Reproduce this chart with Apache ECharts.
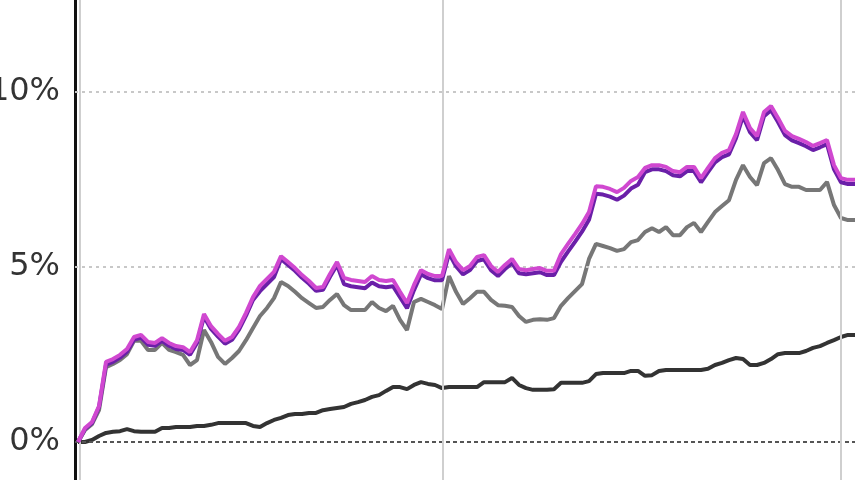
<!DOCTYPE html>
<html>
<head>
<meta charset="utf-8">
<script src="https://cdn.jsdelivr.net/npm/echarts@6/dist/echarts.min.js"></script>
<style>html,body{margin:0;padding:0;background:#fff}#c{width:855px;height:480px}</style>
</head>
<body>
<div id="c"></div>
<script>
// Y tick labels (percent)
const yTicks = [0, 5, 10];
// vertical grid positions (in point index units)
const xGridLines = [0.3, 52.1, 108.9];

// series values in percent, one per period
const magenta = [0,0.40,0.57,1.03,2.29,2.37,2.49,2.66,3.00,3.06,2.86,2.83,2.97,2.83,2.74,2.71,2.57,2.91,3.66,3.31,3.09,2.89,3.00,3.29,3.69,4.14,4.46,4.66,4.86,5.31,5.14,4.97,4.77,4.60,4.40,4.43,4.80,5.14,4.69,4.63,4.60,4.57,4.74,4.63,4.60,4.63,4.29,3.97,4.49,4.91,4.80,4.74,4.74,5.51,5.14,4.91,5.03,5.29,5.34,5.03,4.86,5.06,5.23,4.94,4.91,4.94,4.97,4.89,4.89,5.37,5.66,5.94,6.23,6.57,7.31,7.29,7.23,7.14,7.26,7.46,7.57,7.83,7.91,7.91,7.86,7.74,7.71,7.86,7.86,7.54,7.83,8.11,8.26,8.34,8.80,9.43,8.97,8.74,9.43,9.60,9.26,8.89,8.74,8.66,8.57,8.46,8.54,8.63,7.91,7.54,7.49,7.49];
const purple = [0,0.37,0.54,1.00,2.21,2.29,2.41,2.58,2.92,2.98,2.78,2.75,2.89,2.75,2.66,2.63,2.49,2.83,3.58,3.23,3.01,2.81,2.92,3.21,3.61,4.06,4.31,4.51,4.71,5.23,5.06,4.89,4.69,4.52,4.32,4.35,4.72,5.06,4.51,4.45,4.42,4.39,4.56,4.45,4.42,4.45,4.14,3.82,4.34,4.79,4.68,4.62,4.62,5.39,5.02,4.79,4.91,5.17,5.22,4.91,4.74,4.94,5.11,4.82,4.79,4.82,4.85,4.77,4.77,5.15,5.44,5.72,6.01,6.35,7.09,7.07,7.01,6.92,7.04,7.24,7.35,7.71,7.79,7.79,7.74,7.62,7.59,7.74,7.74,7.42,7.71,7.99,8.14,8.22,8.68,9.31,8.85,8.62,9.31,9.48,9.14,8.77,8.62,8.54,8.45,8.34,8.42,8.51,7.79,7.42,7.37,7.37];
const gray = [0,0.34,0.51,0.91,2.14,2.23,2.34,2.51,2.89,2.89,2.63,2.63,2.83,2.63,2.57,2.49,2.20,2.34,3.20,2.86,2.43,2.23,2.40,2.60,2.91,3.26,3.60,3.83,4.11,4.57,4.46,4.29,4.11,3.97,3.83,3.86,4.06,4.23,3.91,3.77,3.77,3.77,4.00,3.83,3.74,3.89,3.49,3.20,4.00,4.09,4.00,3.91,3.80,4.74,4.29,3.94,4.11,4.29,4.29,4.06,3.91,3.89,3.86,3.60,3.43,3.49,3.51,3.49,3.54,3.89,4.11,4.31,4.51,5.23,5.66,5.60,5.54,5.46,5.51,5.71,5.77,6.00,6.11,6.00,6.14,5.91,5.91,6.14,6.26,6.00,6.29,6.57,6.74,6.91,7.49,7.91,7.57,7.34,7.97,8.11,7.77,7.37,7.29,7.29,7.20,7.20,7.20,7.43,6.77,6.40,6.34,6.34];
const dark = [0,0,0.06,0.17,0.26,0.29,0.31,0.37,0.31,0.29,0.29,0.29,0.40,0.40,0.43,0.43,0.43,0.46,0.46,0.49,0.54,0.54,0.54,0.54,0.54,0.46,0.43,0.54,0.63,0.69,0.77,0.80,0.80,0.83,0.83,0.91,0.94,0.97,1.00,1.09,1.14,1.20,1.29,1.34,1.46,1.57,1.57,1.51,1.63,1.71,1.66,1.63,1.54,1.57,1.57,1.57,1.57,1.57,1.71,1.71,1.71,1.71,1.83,1.63,1.54,1.49,1.49,1.49,1.51,1.69,1.69,1.69,1.69,1.74,1.94,1.97,1.97,1.97,1.97,2.03,2.03,1.89,1.91,2.03,2.06,2.06,2.06,2.06,2.06,2.06,2.09,2.20,2.26,2.34,2.40,2.37,2.20,2.20,2.26,2.37,2.51,2.54,2.54,2.54,2.60,2.69,2.74,2.83,2.91,3.00,3.06,3.06];

function pairs(arr){ return arr.map((v,i)=>[i,v]); }

const chart = echarts.init(document.getElementById('c'), null, {renderer:'canvas'});
const lineBase = {type:'line', showSymbol:false, symbol:'none', animation:false, silent:true, smooth:false};

chart.setOption({
  animation:false,
  grid:{left:75, right:0, top:0, bottom:0, containLabel:false, outerBoundsMode:'none'},
  xAxis:{type:'value', min:-0.43, max:magenta.length-1, show:false, splitLine:{show:false}},
  yAxis:{
    type:'value', min:-38/35, max:442/35,
    axisLine:{show:true, onZero:false, lineStyle:{color:'#111', width:3}},
    axisTick:{show:false},
    splitLine:{show:false},
    axisLabel:{
      customValues: yTicks,
      formatter: v => Math.round(v) + '%',
      fontFamily:'DejaVu Sans', fontSize:32, color:'#333', margin:15
    }
  },
  series:[
    Object.assign({}, lineBase, {
      name:'grid', data:[], 
      markLine:{
        silent:true, symbol:'none', animation:false, label:{show:false},
        data:[
          {yAxis:10, lineStyle:{color:'#c8c8c8', type:[3,4], width:2}},
          {yAxis:5, lineStyle:{color:'#c8c8c8', type:[3,4], width:2}},
          {yAxis:0, lineStyle:{color:'#555', type:[4,3], width:2}}
        ].concat(xGridLines.map(x=>({xAxis:x, lineStyle:{color:'#cfcfcf', type:'solid', width:2}})))
      }
    }),
    Object.assign({}, lineBase, {name:'dark', data:pairs(dark), lineStyle:{color:'#333333', width:4}, z:3}),
    Object.assign({}, lineBase, {name:'gray', data:pairs(gray), lineStyle:{color:'#777777', width:4}, z:4}),
    Object.assign({}, lineBase, {name:'purple', data:pairs(purple), lineStyle:{color:'#6a1fa8', width:4}, z:5}),
    Object.assign({}, lineBase, {name:'magenta', data:pairs(magenta), lineStyle:{color:'#d048d0', width:4}, z:6})
  ]
});
</script>
</body>
</html>
